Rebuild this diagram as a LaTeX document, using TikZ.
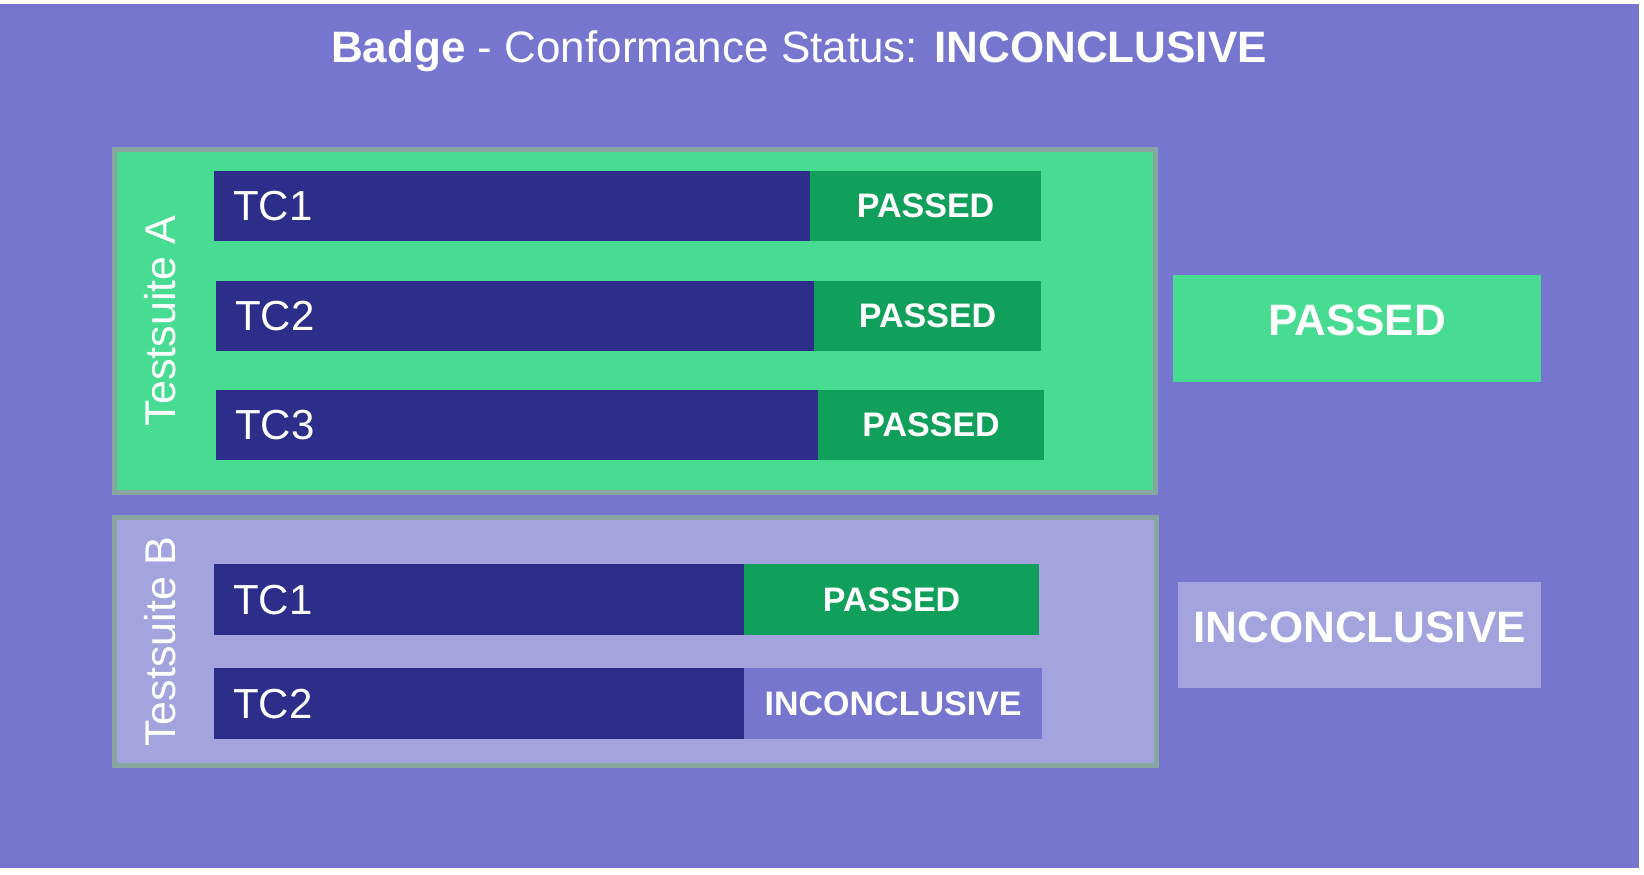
\documentclass[tikz,border=0pt]{standalone}
\usepackage{fontspec}
\setmainfont{Liberation Sans}
\usetikzlibrary{positioning}
\definecolor{bgpurple}{HTML}{7676CF}
\definecolor{lavender}{HTML}{A3A3DD}
\definecolor{lightgreen}{HTML}{47DC92}
\definecolor{darkgreen}{HTML}{11A05B}
\definecolor{navybar}{HTML}{2D2E8A}
\definecolor{suiteedge}{HTML}{87A6A0}

\begin{document}
\begin{tikzpicture}[x=1pt, y=-1pt,
  tcbar/.style={fill=navybar, text=white, anchor=north west, inner xsep=19pt, inner ysep=0pt,
    minimum height=70pt, align=left, font=\fontsize{42}{50}\selectfont},
  verdict/.style={text=white, inner sep=0pt, minimum height=70pt, font=\bfseries\fontsize{34}{40}\selectfont},
  suitebox/.style={draw=suiteedge, line width=5pt, inner sep=0pt},
  suitename/.style={text=white, rotate=90, anchor=base, font=\fontsize{43}{50}\selectfont},
  total/.style={text=white, inner sep=0pt, text depth=16pt, font=\bfseries\fontsize{44}{52}\selectfont}]
  \useasboundingbox (0,0) rectangle (1644,875);
  \fill[white] (0,0) rectangle (1644,875);
  \fill[bgpurple] (0,4) rectangle (1639,868);

  % title
  \node[text=white, anchor=base, font=\fontsize{44}{52}\selectfont] (title) at (799,63)
    {\textbf{Badge} - Conformance Status: \textbf{INCONCLUSIVE}};

  % testsuite A
  \node[suitebox, fill=lightgreen, minimum width=1041pt, minimum height=343pt] (suiteA) at (635,321) {};
  \node[suitename] (nameA) at (175,321) {Testsuite A};
  \node[tcbar, text width=558pt] (tcA1) at (214,171) {TC1};
  \node[verdict, fill=darkgreen, minimum width=231pt, right=-0.5pt of tcA1] (stA1) {PASSED};
  \node[tcbar, text width=560pt] (tcA2) at (216,281) {TC2};
  \node[verdict, fill=darkgreen, minimum width=227pt, right=-0.5pt of tcA2] (stA2) {PASSED};
  \node[tcbar, text width=564pt] (tcA3) at (216,390) {TC3};
  \node[verdict, fill=darkgreen, minimum width=226pt, right=-0.5pt of tcA3] (stA3) {PASSED};

  % testsuite B
  \node[suitebox, fill=lavender, minimum width=1042pt, minimum height=248pt] (suiteB) at (635.5,641.5) {};
  \node[suitename] (nameB) at (175,641.5) {Testsuite B};
  \node[tcbar, text width=492pt, minimum height=71pt] (tcB1) at (214,564) {TC1};
  \node[verdict, fill=darkgreen, minimum width=295pt, minimum height=71pt, right=-0.5pt of tcB1] (stB1) {PASSED};
  \node[tcbar, text width=492pt, minimum height=71pt] (tcB2) at (214,668) {TC2};
  \node[verdict, fill=bgpurple, minimum width=298pt, minimum height=71pt, right=-0.5pt of tcB2] (stB2) {INCONCLUSIVE};

  % suite results
  \node[total, fill=lightgreen, minimum width=368pt, minimum height=107pt] (resA) at (1357,328.5) {PASSED};
  \node[total, fill=lavender, minimum width=363pt, minimum height=106pt] (resB) at (1359.5,635) {INCONCLUSIVE};
\end{tikzpicture}
\end{document}
